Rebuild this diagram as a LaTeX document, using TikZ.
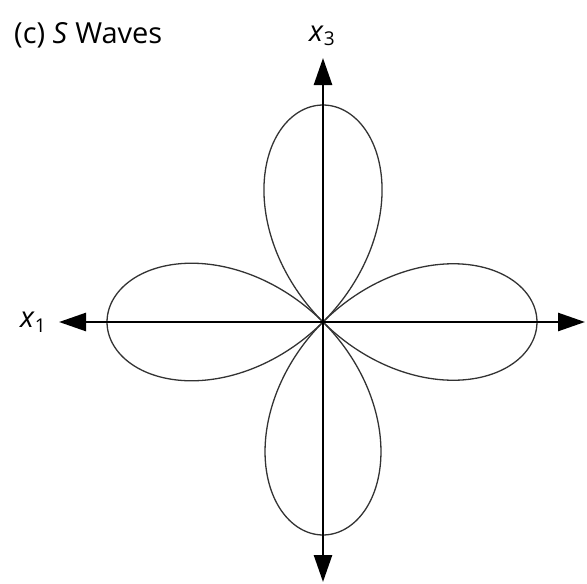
\documentclass[tikz,border=0pt]{standalone}
\usepackage{fontspec}
\setmainfont{Open Sans}
\usetikzlibrary{arrows.meta}
\begin{document}
\begin{tikzpicture}[x=1pt,y=-1pt,
  axis/.style={line width=2.6pt,{Triangle[length=27pt,width=18pt]}-{Triangle[length=27pt,width=18pt]}},
  lobe/.style={line width=1.3pt,black!80},
  lbl/.style={inner sep=0pt,font=\fontsize{29}{34}\selectfont}]
\useasboundingbox (0,0) rectangle (587,584);
\coordinate (O) at (323,322);
\coordinate (T) at (323,58);
\coordinate (B) at (323,582);
\coordinate (L) at (59,322);
\coordinate (R) at (585,322);
% lobes
\draw[lobe,domain=-45:45,samples=120,smooth] plot ({323+217*cos(2*\x)*sin(\x)},{322-217*cos(2*\x)*cos(\x)});
\draw[lobe,domain=-45:45,samples=120,smooth] plot ({323+213*cos(2*\x)*sin(\x)},{322+213*cos(2*\x)*cos(\x)});
\draw[lobe,domain=-45:45,samples=120,smooth] plot ({323-216*cos(2*\x)*cos(\x)},{322+216*cos(2*\x)*sin(\x)});
\draw[lobe,domain=-45:45,samples=120,smooth] plot ({323+214*cos(2*\x)*cos(\x)},{322+214*cos(2*\x)*sin(\x)});
% axes
\draw[axis] (L) -- (R);
\draw[axis] (B) -- (T);
% labels
\node[lbl,anchor=west] (title) at (14,35) {(c) \textit{S} Waves};
\node[lbl] (x1) at (33,322) {\textit{x}\raisebox{-0.3ex}{\fontsize{19}{22}\selectfont 1}};
\node[lbl] (x3) at (322,36) {\textit{x}\raisebox{-0.3ex}{\fontsize{19}{22}\selectfont 3}};
\end{tikzpicture}
\end{document}
